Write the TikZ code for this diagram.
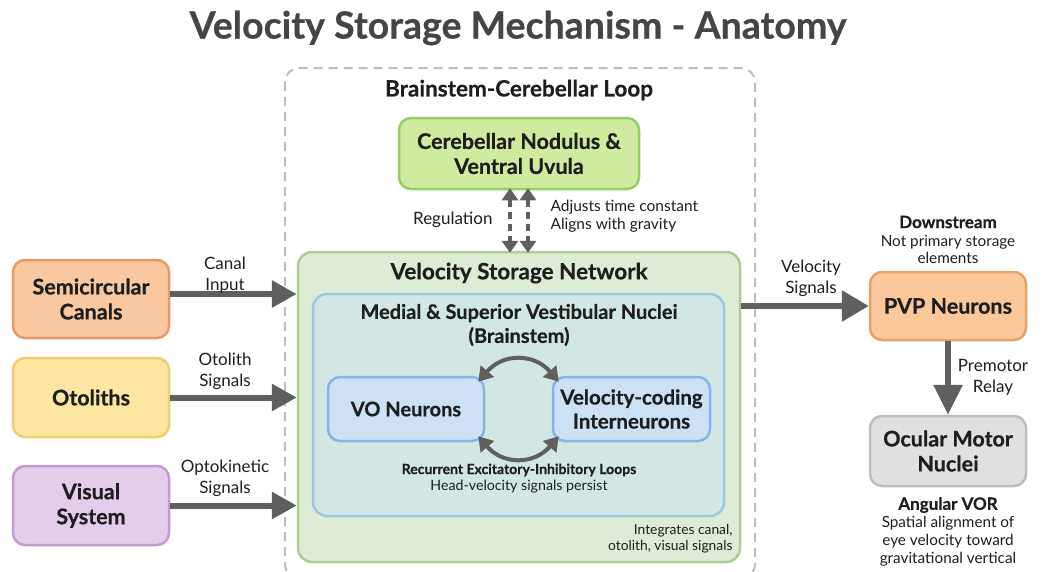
\documentclass[tikz,border=0pt]{standalone}
\usepackage{fontspec}
\setmainfont{Lato}[BoldFeatures={FakeBold=0.5}]
\usetikzlibrary{arrows.meta}

\definecolor{ink}{HTML}{1E1E1E}
\definecolor{titleink}{HTML}{454545}
\definecolor{arrowgray}{HTML}{5F5F5F}
\definecolor{loopgray}{HTML}{BDBDBD}
\definecolor{canalfill}{HTML}{F9C8A0}\definecolor{canaldraw}{HTML}{E89A66}
\definecolor{otofill}{HTML}{FCE6A0}\definecolor{otodraw}{HTML}{F0CD6E}
\definecolor{visfill}{HTML}{E4CDEB}\definecolor{visdraw}{HTML}{C39BD2}
\definecolor{cerefill}{HTML}{D0EAA0}\definecolor{ceredraw}{HTML}{96CD64}
\definecolor{vsnfill}{HTML}{DEEBD6}\definecolor{vsndraw}{HTML}{AACD96}
\definecolor{msvfill}{HTML}{D2E6E4}\definecolor{msvdraw}{HTML}{A0C8DC}
\definecolor{neufill}{HTML}{CDE1F5}\definecolor{neudraw}{HTML}{87B4E6}
\definecolor{pvpfill}{HTML}{FBC89B}\definecolor{pvpdraw}{HTML}{EBA064}
\definecolor{omnfill}{HTML}{E0E0E0}\definecolor{omndraw}{HTML}{BEBEBE}

\tikzset{
  box/.style={draw, rounded corners=12pt, line width=2.5pt, align=center,
    text=ink, inner sep=0pt, font=\bfseries\fontsize{21.5}{25}\selectfont},
  panel/.style={draw, rounded corners=14pt, line width=2.5pt, inner sep=0pt},
  heading/.style={text=ink, align=center, font=\bfseries\fontsize{22.5}{26}\selectfont},
  lbl/.style={text=ink, align=center, font=\fontsize{17}{21}\selectfont},
  fat/.style={draw=arrowgray, line width=6pt, -{Triangle[length=25pt,width=26pt]}},
  regarrow/.style={draw=arrowgray, line width=4pt, dash pattern=on 7pt off 5pt,
    {Triangle[length=12pt,width=16pt]}-{Triangle[length=12pt,width=16pt]}},
  looparrow/.style={draw=arrowgray, line width=4pt,
    {Triangle[length=14pt,width=17pt]}-{Triangle[length=14pt,width=17pt]}}
}

\begin{document}
\begin{tikzpicture}[x=1pt,y=-1pt]
\useasboundingbox[fill=white] (0,0) rectangle (1048,571);

% title
\node[text=titleink, font=\bfseries\fontsize{37.5}{42}\selectfont] (title) at (518,28)
  {Velocity Storage Mechanism - Anatomy};

% brainstem-cerebellar loop frame
\draw[loopgray, line width=2pt, dash pattern=on 9pt off 6pt, rounded corners=14pt]
  (285,68) rectangle (755,578);
\node[heading] (looptitle) at (519,90) {Brainstem-Cerebellar Loop};

% cerebellum
\node[box, fill=cerefill, draw=ceredraw, minimum width=240pt, minimum height=71pt]
  (cn) at (519,153.5) {Cerebellar Nodulus \&\\Ventral Uvula};

% velocity storage network
\node[panel, fill=vsnfill, draw=vsndraw, minimum width=442pt, minimum height=310pt]
  (vsn) at (519,407) {};
\node[heading] (vsntitle) at (519,273) {Velocity Storage Network};
\node[panel, fill=msvfill, draw=msvdraw, minimum width=411pt, minimum height=222pt]
  (msv) at (518.5,405) {};
\node[heading, font=\bfseries\fontsize{20}{24}\selectfont] (msvtitle) at (519,325)
  {Medial \& Superior Vestibular Nuclei\\(Brainstem)};

\node[box, fill=neufill, draw=neudraw, minimum width=156pt, minimum height=64pt,
  font=\bfseries\fontsize{20}{24}\selectfont] (vo) at (406,409) {VO Neurons};
\node[box, fill=neufill, draw=neudraw, minimum width=157pt, minimum height=64pt,
  font=\bfseries\fontsize{20.5}{24}\selectfont] (vci) at (631.5,409) {Velocity-coding\\Interneurons};

% recurrent loop between the two populations
\coordinate (t1) at ([shift={(-7pt,-6pt)}]vo.north east);
\coordinate (t2) at ([shift={(7pt,-6pt)}]vci.north west);
\coordinate (b1) at ([shift={(-7pt,6pt)}]vo.south east);
\coordinate (b2) at ([shift={(7pt,6pt)}]vci.south west);
\draw[looparrow] (t1) .. controls (503,353) and (534,353) .. (t2);
\draw[looparrow] (b1) .. controls (503,465) and (534,465) .. (b2);

\node[text=ink, font=\bfseries\fontsize{14}{17}\selectfont] (loopa) at (519,470)
  {Recurrent Excitatory-Inhibitory Loops};
\node[text=ink, font=\fontsize{14.2}{17}\selectfont] (loopb) at (519,487)
  {Head-velocity signals persist};
\node[text=ink, align=right, anchor=east, font=\fontsize{13.8}{15.5}\selectfont] (integ) at (736,538.5)
  {Integrates canal,\\otolith, visual signals};

% regulation between cerebellum and network
\coordinate (r1) at ([shift={(-9pt,2pt)}]cn.south);
\coordinate (r3) at ([shift={(9pt,2pt)}]cn.south);
\coordinate (r2) at ([yshift=-2pt]r1 |- vsn.north);
\coordinate (r4) at ([yshift=-2pt]r3 |- vsn.north);
\draw[regarrow] (r1) -- (r2);
\draw[regarrow] (r3) -- (r4);
\node[lbl, anchor=east] (reg) at (496,220) {Regulation};
\node[text=ink, align=left, anchor=west, font=\fontsize{15.5}{18}\selectfont] (regnote) at (547,216)
  {Adjusts time constant\\Aligns with gravity};

% sensory inputs
\node[box, fill=canalfill, draw=canaldraw, minimum width=156pt, minimum height=78pt]
  (sc) at (91,299) {Semicircular\\Canals};
\node[box, fill=otofill, draw=otodraw, minimum width=156pt, minimum height=79pt]
  (ot) at (91,397.5) {Otoliths};
\node[box, fill=visfill, draw=visdraw, minimum width=156pt, minimum height=79pt]
  (vs) at (91,505.5) {Visual\\System};

\draw[fat] ([yshift=5pt]sc.east) -- ([yshift=5pt]sc.east -| vsn.west);
\draw[fat] (ot.east) -- (ot.east -| vsn.west);
\draw[fat] (vs.east) -- (vs.east -| vsn.west);
\node[lbl] (lsc) at (225,275) {Canal\\Input};
\node[lbl] (lot) at (225,371) {Otolith\\Signals};
\node[lbl] (lvs) at (225,478.5) {Optokinetic\\Signals};

% downstream pathway
\node[box, fill=pvpfill, draw=pvpdraw, minimum width=156pt, minimum height=68pt]
  (pvp) at (948,306) {PVP Neurons};
\node[box, fill=omnfill, draw=omndraw, minimum width=156pt, minimum height=70pt]
  (omn) at (948,451) {Ocular Motor\\Nuclei};

\draw[fat, -{Triangle[length=27pt,width=30pt]}] (pvp.west -| vsn.east) -- (pvp.west);
\draw[fat, -{Triangle[length=30pt,width=28pt]}] (pvp.south) -- (omn.north);
\node[lbl] (lvel) at (811,278.5) {Velocity\\Signals};
\node[lbl] (lpre) at (993,377) {Premotor\\Relay};

\node[text=ink, font=\bfseries\fontsize{17}{20}\selectfont] (down) at (948,222) {Downstream};
\node[text=ink, align=center, font=\fontsize{15.3}{17}\selectfont] (downnote) at (948,249.5)
  {Not primary storage\\elements};
\node[text=ink, font=\bfseries\fontsize{17}{20}\selectfont] (avor) at (948,505) {Angular VOR};
\node[text=ink, align=center, font=\fontsize{15.3}{18}\selectfont] (avornote) at (948,541)
  {Spatial alignment of\\eye velocity toward\\gravitational vertical};
\end{tikzpicture}
\end{document}
